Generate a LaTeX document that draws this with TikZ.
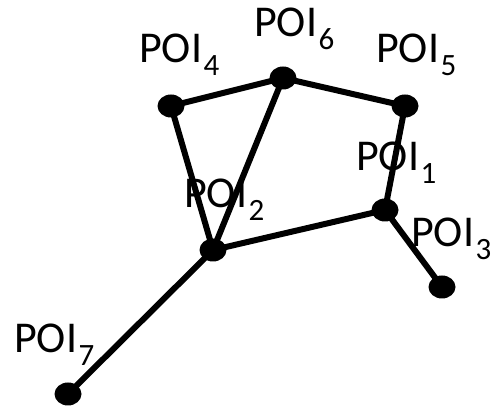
\documentclass[tikz,border=0pt]{standalone}
\usepackage{fontspec}
\setmainfont{Carlito}
\newcommand\poisub[1]{\kern1.5pt\raisebox{-13pt}{\fontsize{31}{31}\selectfont #1}}
\tikzset{
  dot/.style={ellipse, fill=black, minimum width=27pt, minimum height=23pt, inner sep=0pt},
  lab/.style={anchor=base west, inner sep=0pt, font=\fontsize{44}{44}\selectfont},
  edge/.style={line width=6pt}
}
\usetikzlibrary{shapes.geometric}
\begin{document}
\begin{tikzpicture}[x=1pt,y=-1pt]
\useasboundingbox (0,0) rectangle (491,409);
\node[dot] (p6) at (283,78) {};
\node[dot] (p4) at (171,106) {};
\node[dot] (p5) at (405,106) {};
\node[dot] (p1) at (385,210) {};
\node[dot] (p2) at (213,250) {};
\node[dot] (p3) at (442,287) {};
\node[dot] (p7) at (68,394) {};
\draw[edge] (p4.center) -- (p6.center) -- (p5.center) -- (p1.center) -- (p3.center);
\draw[edge] (p4.center) -- (p2.center) -- (p6.center);
\draw[edge] (p1.center) -- (p2.center) -- (p7.center);
\node[lab] (t4) at (139,63) {POI\poisub{4}};
\node[lab] (t6) at (254,37) {POI\poisub{6}};
\node[lab] (t5) at (376,63) {POI\poisub{5}};
\node[lab] (t1) at (356,171) {POI\poisub{1}};
\node[lab] (t2) at (184,208) {POI\poisub{2}};
\node[lab] (t3) at (411,247) {POI\poisub{3}};
\node[lab] (t7) at (14,353) {POI\poisub{7}};
\end{tikzpicture}
\end{document}
